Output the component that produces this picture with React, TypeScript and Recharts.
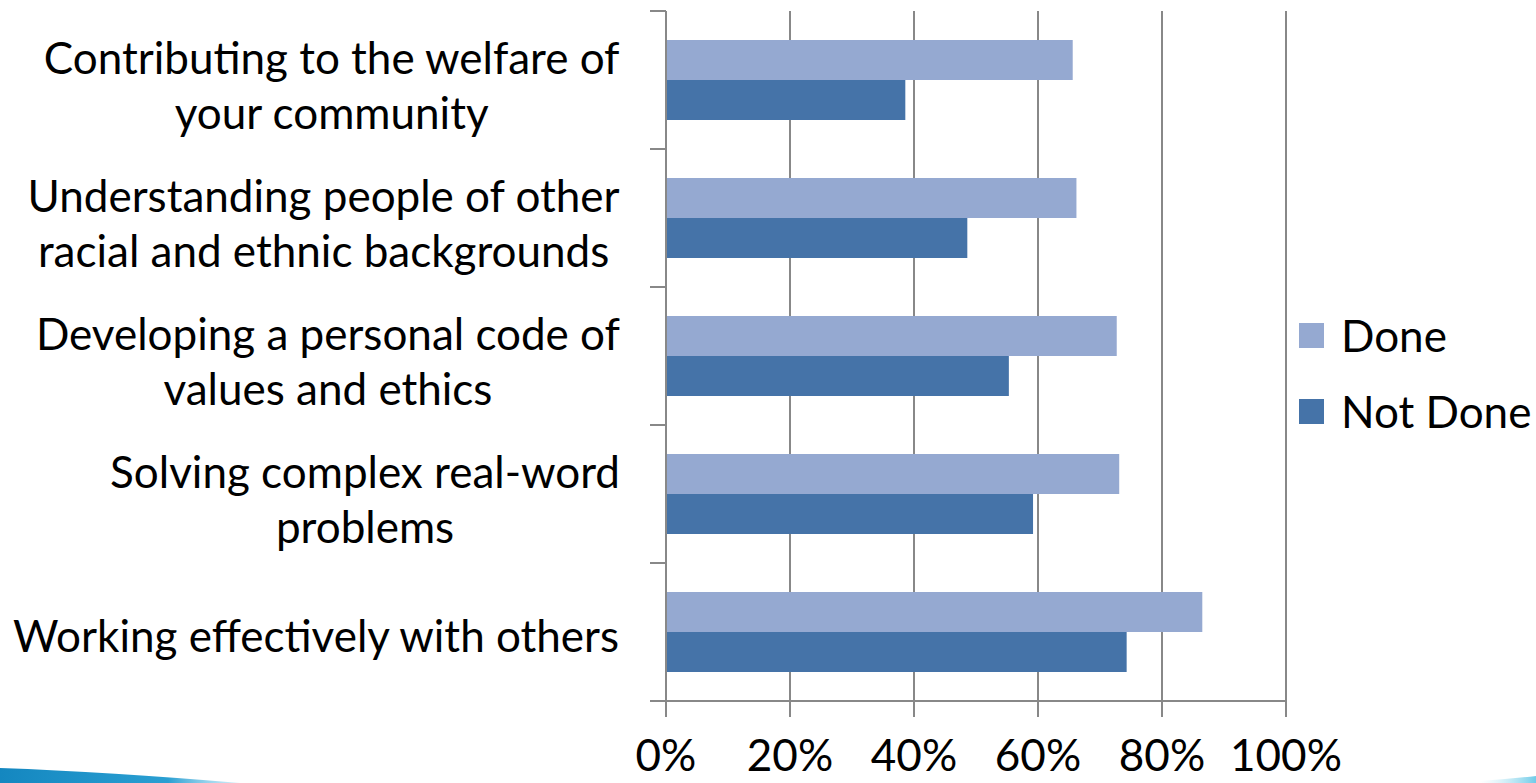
import { Bar, BarChart, CartesianGrid, Legend, XAxis, YAxis } from "recharts";

// values (percent of respondents)
const categories = [
  "Contributing to the welfare of\nyour community",
  "Understanding people of other\nracial and ethnic backgrounds",
  "Developing a personal code of\nvalues and ethics",
  "Solving complex real-word\nproblems",
  "Working effectively with others",
];
const doneValues = [65.6, 66.2, 72.7, 73.1, 86.5];
const notDoneValues = [38.6, 48.6, 55.3, 59.2, 74.3];
const xTicks = [0, 20, 40, 60, 80, 100];

const data = categories.map((c, i) => ({
  category: c,
  done: doneValues[i],
  notDone: notDoneValues[i],
}));

const FONT = "Lato, 'Open Sans', sans-serif";
const FS = 44;
const LINE = "#888888";
const DONE = "#95A9D1";
const NOT_DONE = "#4573A8";
const LABEL_GAP = 46; // space between label block and axis line
const TICK_LEN = 16;

let measureCanvas: HTMLCanvasElement | null = null;
function textWidth(s: string) {
  if (!measureCanvas) measureCanvas = document.createElement("canvas");
  const ctx = measureCanvas.getContext("2d");
  if (!ctx) return s.length * FS * 0.45;
  ctx.font = `${FS}px Lato`;
  return ctx.measureText(s).width;
}

// category label: block right-aligned to the tick, lines centred inside the block.
// Excel-style tick marks sit on the band edges (payload.offset = half band).
function CategoryTick({ x, y, payload }: any) {
  const lines = String(payload.value).split("\n");
  const w = Math.max(...lines.map(textWidth));
  const cx = x - w / 2;
  const first = lines.length > 1 ? -6 : 20;
  const axisX = x + LABEL_GAP;
  const half = payload.offset ?? 0;
  return (
    <g>
      {[y - half, y + half].map((ty, i) => (
        <line
          key={i}
          x1={axisX - TICK_LEN}
          x2={axisX}
          y1={ty}
          y2={ty}
          stroke={LINE}
          strokeWidth={2}
        />
      ))}
      <text textAnchor="middle" fontFamily={FONT} fontSize={FS} fill="#000">
        {lines.map((l, i) => (
          <tspan key={i} x={cx} y={y + first + i * 55}>
            {l}
          </tspan>
        ))}
      </text>
    </g>
  );
}

function LegendBox({ payload }: any) {
  return (
    <div style={{ fontFamily: FONT, fontSize: FS, color: "#000", whiteSpace: "nowrap" }}>
      {(payload ?? []).map((p: any) => (
        <div
          key={p.value}
          style={{ display: "flex", alignItems: "center", height: 76 }}
        >
          <span
            style={{
              display: "inline-block",
              width: 25,
              height: 25,
              background: p.color,
              marginRight: 17,
              flex: "none",
            }}
          />
          <span style={{ lineHeight: 1 }}>{p.value}</span>
        </div>
      ))}
    </div>
  );
}

export default function App() {
  return (
    <div style={{ position: "absolute", left: 0, top: 0, width: 1536, height: 783, background: "#fff", overflow: "hidden" }}>
      <BarChart
        width={1536}
        height={783}
        data={data}
        layout="vertical"
        margin={{ top: 11, right: 250, bottom: 0, left: 0 }}
        barCategoryGap="21%"
        barGap={0}
        accessibilityLayer={false}
      >
        <CartesianGrid horizontal={false} stroke={LINE} strokeWidth={2} />
        <XAxis
          type="number"
          domain={[0, 100]}
          ticks={xTicks}
          tickFormatter={(v: number) => `${v}%`}
          tickSize={TICK_LEN}
          tickMargin={23}
          height={82}
          axisLine={{ stroke: LINE, strokeWidth: 2 }}
          tickLine={{ stroke: LINE, strokeWidth: 2 }}
          tick={{ fill: "#000", fontSize: FS, fontFamily: FONT }}
          interval={0}
        />
        <YAxis
          type="category"
          dataKey="category"
          width={666}
          axisLine={{ stroke: LINE, strokeWidth: 2 }}
          tickLine={false}
          tickSize={0}
          tickMargin={LABEL_GAP}
          tick={<CategoryTick />}
          interval={0}
        />
        <Legend
          layout="vertical"
          align="center"
          verticalAlign="middle"
          content={<LegendBox />}
          wrapperStyle={{ left: 1299, top: 297, width: 237, height: "auto" }}
        />
        <Bar dataKey="done" name="Done" fill={DONE} isAnimationActive={false} />
        <Bar dataKey="notDone" name="Not Done" fill={NOT_DONE} isAnimationActive={false} />
      </BarChart>
      <svg
        width={1536}
        height={783}
        style={{ position: "absolute", left: 0, top: 0, pointerEvents: "none" }}
      >
        <defs>
          <linearGradient id="swoosh" x1="0" y1="0" x2="1" y2="0">
            <stop offset="0" stopColor="#1487c0" />
            <stop offset="0.7" stopColor="#2a9fd2" />
            <stop offset="1" stopColor="#8fd3ee" stopOpacity="0.4" />
          </linearGradient>
          <linearGradient id="corner" x1="0" y1="0" x2="1" y2="0">
            <stop offset="0" stopColor="#bfe9f5" stopOpacity="0" />
            <stop offset="1" stopColor="#6fcbe8" />
          </linearGradient>
        </defs>
        <path d="M0,768 Q110,772 240,783 L0,783 Z" fill="url(#swoosh)" />
        <path d="M1480,781 Q1510,779 1536,776 L1536,783 L1480,783 Z" fill="url(#corner)" />
      </svg>
    </div>
  );
}
